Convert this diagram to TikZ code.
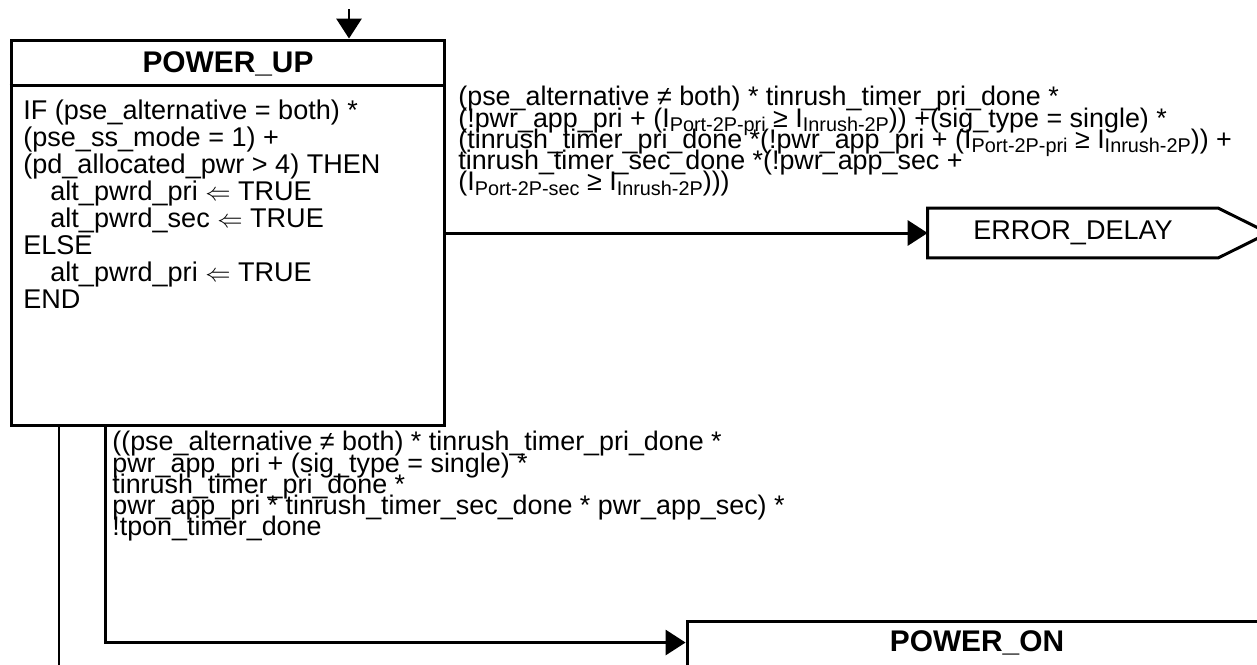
\documentclass[tikz,border=0pt]{standalone}
\usepackage{fontspec}
\setmainfont{Liberation Sans}
\usetikzlibrary{arrows.meta,calc}

\newcommand{\txtbody}{\fontsize{15.4}{15.3}\selectfont\lineskiplimit=-100pt\relax}
\newcommand{\txtcond}{\fontsize{15.3}{12.1}\selectfont\lineskiplimit=-100pt\relax}
\newcommand{\txttitle}{\fontsize{17}{17}\selectfont\bfseries}
\newcommand{\lsub}[1]{\raisebox{-2.6pt}{\fontsize{11.3}{11.3}\selectfont #1}}

\tikzset{
  wire/.style={line width=1.7pt},
  arrowline/.style={wire,-{Triangle[length=0.4cm,width=0.5cm]}},
  statebox/.style={draw,wire,rectangle,inner sep=0pt},
  condtext/.style={inner sep=0pt,align=left,anchor=north west},
}

\begin{document}
\begin{tikzpicture}[x=0.02cm,y=-0.02cm]
  \useasboundingbox (0,0) rectangle (1257,664);
  \clip (0,0) rectangle (1257,664);

  % Estado POWER_UP
  \node[statebox,minimum width=8.68cm,minimum height=7.72cm] (up) at (228,233) {};
  \draw[wire] ([yshift=-0.94cm]up.north west) -- ([yshift=-0.94cm]up.north east);
  \node[font=\txttitle,inner sep=0pt] (uptitle) at ([yshift=-0.5cm]up.north) {POWER\_UP};
  \node[condtext,font=\txtbody] (upbody) at (23,100) {IF (pse\_alternative = both) *\\
    (pse\_ss\_mode = 1) +\\
    (pd\_allocated\_pwr > 4) THEN\\
    \quad alt\_pwrd\_pri $\Leftarrow$ TRUE\\
    \quad alt\_pwrd\_sec $\Leftarrow$ TRUE\\
    ELSE\\
    \quad alt\_pwrd\_pri $\Leftarrow$ TRUE\\
    END};

  % Estado ERROR_DELAY
  \node[inner sep=0pt,minimum width=5.8cm,minimum height=0.98cm,font=\txtbody] (err) at (1073,233) {ERROR\_DELAY};
  \draw[wire] (err.north west) -- (err.north east) -- ($(err.east)+(50,0)$) -- (err.south east) -- (err.south west) -- cycle;

  % Estado POWER_ON
  \node[statebox,minimum width=12.6cm,minimum height=2cm] (on) at (1002,671) {};
  \node[font=\txttitle,inner sep=0pt,anchor=base] (ontitle) at (977,651) {POWER\_ON};

  % Transiciones
  \coordinate (entry) at (349,9);
  \draw[arrowline] (entry) -- (entry |- up.north);
  \draw[arrowline] (up.east) -- (err.west);
  \draw[arrowline] ([xshift=1.92cm]up.south west) |- ([yshift=-0.46cm]on.north west);
  \coordinate (exit) at (59,680);
  \draw[wire] (exit |- up.south) -- (exit);

  % Condiciones
  \node[condtext,font=\txtcond] (errcond) at (458,86) {(pse\_alternative ≠ both) * tinrush\_timer\_pri\_done *\\
    (!pwr\_app\_pri + (I\lsub{Port-2P-pri} ≥ I\lsub{Inrush-2P})) +(sig\_type = single) *\\
    (tinrush\_timer\_pri\_done *(!pwr\_app\_pri + (I\lsub{Port-2P-pri} ≥ I\lsub{Inrush-2P})) +\\
    tinrush\_timer\_sec\_done *(!pwr\_app\_sec +\\
    (I\lsub{Port-2P-sec} ≥ I\lsub{Inrush-2P})))};
  \node[condtext,font=\txtcond] (oncond) at (112,431) {((pse\_alternative ≠ both) * tinrush\_timer\_pri\_done *\\
    pwr\_app\_pri + (sig\_type = single) *\\
    tinrush\_timer\_pri\_done *\\
    pwr\_app\_pri * tinrush\_timer\_sec\_done * pwr\_app\_sec) *\\
    !tpon\_timer\_done};
\end{tikzpicture}
\end{document}
